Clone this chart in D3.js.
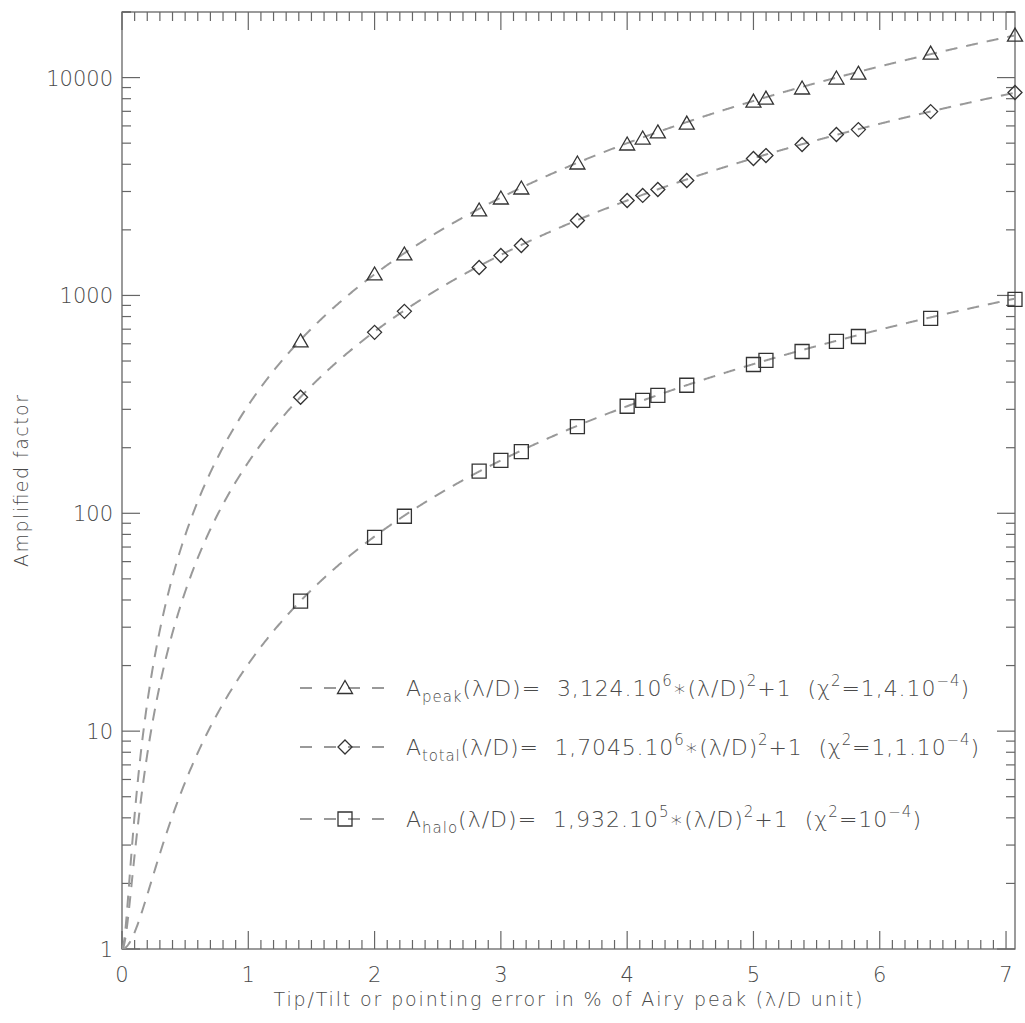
<!DOCTYPE html>
<html>
<head>
<meta charset="utf-8">
<script src="https://cdn.jsdelivr.net/npm/d3@7"></script>
<style>
  body { margin: 0; background: #fff; }
  svg text { font-family: "DejaVu Sans", sans-serif; font-weight: 200; fill: #4a4a4a; }
</style>
</head>
<body>
<div id="chart"></div>
<script>
// Data
const xValues = [1.414, 2.0, 2.236, 2.828, 3.0, 3.162, 3.606, 4.0, 4.123, 4.243, 4.472, 5.0, 5.099, 5.385, 5.657, 5.831, 6.403, 7.071];
const peakValues = [615, 1248, 1542, 2455, 2786, 3097, 4033, 4931, 5250, 5600, 6150, 7760, 8010, 8910, 9900, 10420, 12880, 15590];
const totalValues = [341, 677, 845, 1344, 1525, 1695, 2207, 2728, 2877, 3064, 3370, 4250, 4385, 4930, 5480, 5770, 6980, 8540];
const haloValues = [39.5, 77.6, 96.9, 156, 175, 192, 250, 310, 330, 348, 387, 482, 503, 553, 615, 648, 784, 959];

// Fit coefficients from the legend (x in % of Airy peak)
const fitCoefs = [312.4, 170.45, 19.32];
const seriesNames = ["peak", "total", "halo"];
const seriesSymbols = ["triangle", "diamond", "square"];

const xTicks = [0, 1, 2, 3, 4, 5, 6, 7];
const yTicks = [1, 10, 100, 1000, 10000];

const W = 1025, H = 1023;
const plot = { left: 122, right: 1015, top: 12, bottom: 949 };

const svg = d3.select("#chart").append("svg")
    .attr("width", W)
    .attr("height", H);

const x = d3.scaleLinear().domain([0, 7.071]).range([plot.left, plot.right]);
const y = d3.scaleLog().domain([1, 20000]).range([plot.bottom, plot.top]);

const axisColor = "#666";

// Frame
svg.append("rect")
    .attr("x", plot.left).attr("y", plot.top)
    .attr("width", plot.right - plot.left).attr("height", plot.bottom - plot.top)
    .attr("fill", "none").attr("stroke", axisColor).attr("stroke-width", 1.3);

// X ticks (bottom + top), minor every 0.1
const xMinor = d3.range(0, 71).map(i => i / 10).filter(v => v <= 7.071);
xMinor.forEach((v, i) => {
    const major = i % 10 === 0;
    const len = major ? 18 : 9;
    svg.append("line")
        .attr("x1", x(v)).attr("x2", x(v))
        .attr("y1", plot.bottom).attr("y2", plot.bottom - len)
        .attr("stroke", axisColor).attr("stroke-width", 1.2);
    svg.append("line")
        .attr("x1", x(v)).attr("x2", x(v))
        .attr("y1", plot.top).attr("y2", plot.top + len)
        .attr("stroke", axisColor).attr("stroke-width", 1.2);
});

svg.selectAll(".xlab")
    .data(xTicks)
    .enter().append("text")
    .attr("x", d => x(d))
    .attr("y", 982)
    .attr("text-anchor", "middle")
    .style("font-size", "21px")
    .text(d => d);

// Y ticks (left + right), minor at 2..9 of each decade
const yAll = [];
for (let e = 0; e <= 4; e++) {
    for (let m = 1; m <= 9; m++) {
        const v = m * Math.pow(10, e);
        if (v <= 20000) yAll.push({ v, major: m === 1 });
    }
}
yAll.push({ v: 20000, major: false });
yAll.forEach(t => {
    const len = t.major ? 18 : 9;
    svg.append("line")
        .attr("x1", plot.left).attr("x2", plot.left + len)
        .attr("y1", y(t.v)).attr("y2", y(t.v))
        .attr("stroke", axisColor).attr("stroke-width", 1.2);
    svg.append("line")
        .attr("x1", plot.right).attr("x2", plot.right - len)
        .attr("y1", y(t.v)).attr("y2", y(t.v))
        .attr("stroke", axisColor).attr("stroke-width", 1.2);
});

svg.selectAll(".ylab")
    .data(yTicks)
    .enter().append("text")
    .attr("x", 113)
    .attr("y", d => y(d) + 8)
    .attr("text-anchor", "end")
    .style("font-size", "21px")
    .text(d => d);

// Axis titles
svg.append("text")
    .attr("x", 568).attr("y", 1006)
    .attr("text-anchor", "middle")
    .style("font-size", "19px")
    .attr("textLength", 589)
    .text("Tip/Tilt or pointing error in % of Airy peak (λ/D unit)");

svg.append("text")
    .attr("transform", "translate(28,481) rotate(-90)")
    .attr("text-anchor", "middle")
    .style("font-size", "19px")
    .attr("textLength", 172)
    .text("Amplified factor");

// Fit curves
svg.append("clipPath").attr("id", "clip")
    .append("rect")
    .attr("x", plot.left).attr("y", plot.top)
    .attr("width", plot.right - plot.left).attr("height", plot.bottom - plot.top);

const xs = d3.range(0, 7.0711, 0.005);
const line = d3.line()
    .x(d => x(d[0]))
    .y(d => y(d[1]));

fitCoefs.forEach(c => {
    svg.append("path")
        .datum(xs.map(v => [v, c * v * v + 1]))
        .attr("clip-path", "url(#clip)")
        .attr("fill", "none")
        .attr("stroke", "#999")
        .attr("stroke-width", 2)
        .attr("stroke-dasharray", "12,9")
        .attr("d", line);
});

// Markers
function symbolPath(kind) {
    if (kind === "triangle") return "M0,-7.5L7.5,5.5L-7.5,5.5Z";
    if (kind === "diamond") return "M0,-7L7,0L0,7L-7,0Z";
    return "M-7,-7L7,-7L7,7L-7,7Z";
}

const seriesValues = [peakValues, totalValues, haloValues];
seriesValues.forEach((vals, si) => {
    svg.append("g")
        .selectAll("path")
        .data(vals)
        .enter().append("path")
        .attr("transform", (d, i) => `translate(${x(xValues[i])},${y(d)})`)
        .attr("d", symbolPath(seriesSymbols[si]))
        .attr("fill", "none")
        .attr("stroke", "#333")
        .attr("stroke-width", 1.3);
});

// Legend
const legendRows = [
    { sub: "peak", coef: "3,124.10", exp: "6", chi: ["=1,4.10", "−4"] },
    { sub: "total", coef: "1,7045.10", exp: "6", chi: ["=1,1.10", "−4"] },
    { sub: "halo", coef: "1,932.10", exp: "5", chi: ["=10", "−4"] }
];
const legendY = [688, 747, 819];
const legendWidths = [563, 573, 515];
const nb = "\u00a0";

legendRows.forEach((r, i) => {
    const ly = legendY[i];
    svg.append("line")
        .attr("x1", 300).attr("x2", 384)
        .attr("y1", ly).attr("y2", ly)
        .attr("stroke", "#999").attr("stroke-width", 2)
        .attr("stroke-dasharray", "12,12");
    svg.append("path")
        .attr("transform", `translate(345,${ly})`)
        .attr("d", symbolPath(seriesSymbols[i]))
        .attr("fill", "none")
        .attr("stroke", "#333")
        .attr("stroke-width", 1.3);

    const t = svg.append("text")
        .attr("x", 406).attr("y", ly + 8)
        .attr("textLength", legendWidths[i])
        .attr("lengthAdjust", "spacing")
        .style("font-size", "22px");
    t.append("tspan").text("A");
    t.append("tspan").attr("dy", 6).style("font-size", "15px").text(r.sub);
    t.append("tspan").attr("dy", -6).text("(λ/D)=" + nb + nb + r.coef);
    t.append("tspan").attr("dy", -10).style("font-size", "15px").text(r.exp);
    t.append("tspan").attr("dy", 10).text("∗(λ/D)");
    t.append("tspan").attr("dy", -10).style("font-size", "15px").text("2");
    t.append("tspan").attr("dy", 10).text("+1" + nb + nb + "(χ");
    t.append("tspan").attr("dy", -10).style("font-size", "15px").text("2");
    t.append("tspan").attr("dy", 10).text(r.chi[0]);
    t.append("tspan").attr("dy", -10).style("font-size", "15px").text(r.chi[1]);
    t.append("tspan").attr("dy", 10).text(")");
});
</script>
</body>
</html>
